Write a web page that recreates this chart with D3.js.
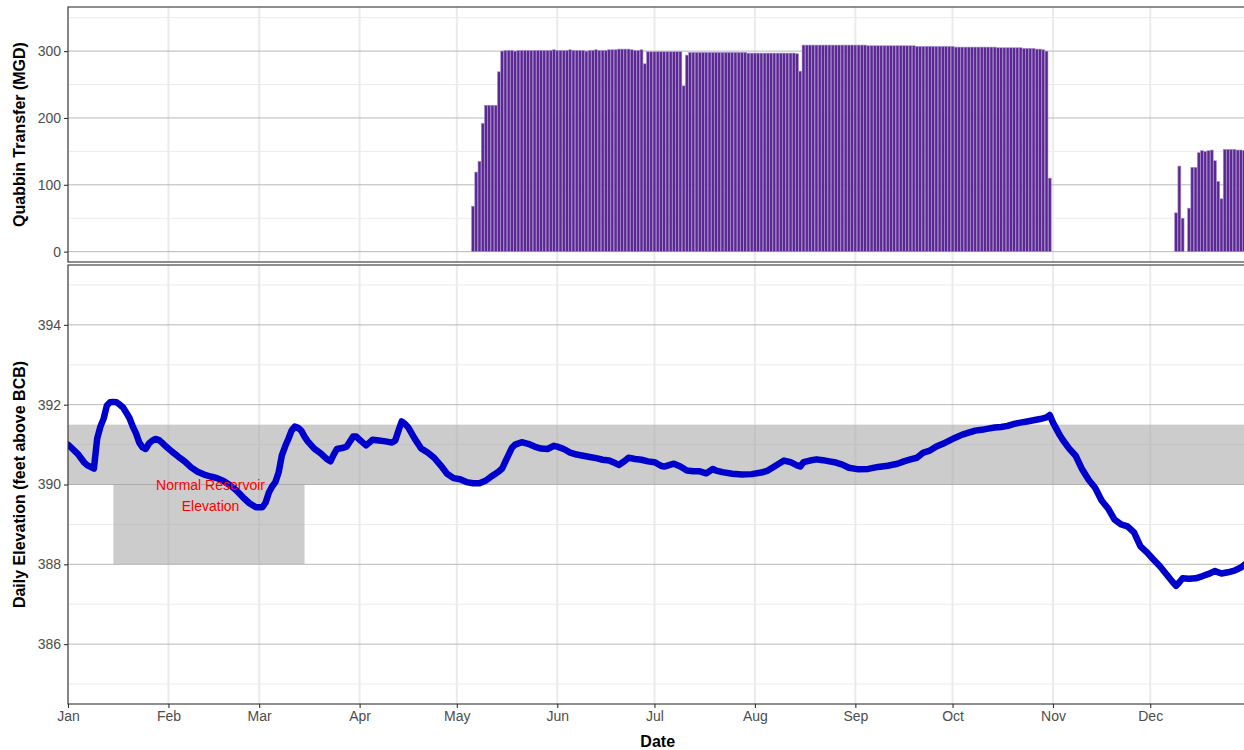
<!DOCTYPE html>
<html>
<head>
<meta charset="utf-8">
<script src="https://cdn.jsdelivr.net/npm/d3@7"></script>
<style>
  body { margin: 0; background: #ffffff; }
  svg { display: block; font-family: "Liberation Sans", Arial, sans-serif; }
</style>
</head>
<body>
<div id="chart"></div>
<script>
var year = 2021;

var monthLabels = ["Jan", "Feb", "Mar", "Apr", "May", "Jun", "Jul", "Aug", "Sep", "Oct", "Nov", "Dec"];
var transferTicks = [0, 100, 200, 300];
var elevationTicks = [386, 388, 390, 392, 394];

// Quabbin transfer (MGD), one value per day from the start date
var transferStartA = "05-06";
var transferValuesA = [68, 119, 135, 192, 219, 219, 219, 219, 269,
    300, 301, 301, 301, 300, 301, 301, 301, 301, 301, 301, 301, 301, 301, 301, 301, 302, 301, 301,
    301, 301, 302, 301, 301, 301, 301, 300, 301, 301, 302, 301, 301, 301, 302, 302, 302,
    303, 303, 303, 303, 302, 301, 301, 302,
    281,
    299, 299, 299, 299, 299, 299, 299, 299, 299, 299, 299,
    248,
    294,
    298, 298, 298, 298, 298, 298, 298, 298, 298, 298, 298, 298, 298, 298, 298, 298, 298, 298, 297, 297,
    297, 297, 297, 297, 297, 297, 297, 297, 297, 297, 297, 297, 297, 296,
    270,
    309, 309, 309, 309, 309, 309, 309, 309, 309, 309, 309, 309, 309, 309, 309, 309, 309, 309, 309, 309,
    308, 308, 308, 308, 308, 308, 308, 308, 308, 308, 308, 308, 308, 308, 308, 307, 307, 307, 307, 307,
    307, 307, 307, 307, 307, 307, 307, 306, 306, 306, 306, 306, 306, 306, 306, 306, 306, 306, 306, 306,
    305, 305, 305, 305, 305, 305, 305, 305, 304, 304, 304, 304, 303, 303, 302, 300,
    110];

var transferStartB = "12-09";
var transferValuesB = [58, 128, 50, 0, 65, 126, 126, 148, 151, 150, 151, 152, 136, 105, 79,
    153, 153, 153, 153, 152, 152, 151, 151];

// daily reservoir elevation (feet above BCB)
var elevDates = ["01-01", "01-04", "01-06", "01-07", "01-09", "01-10", "01-11", "01-12", "01-13", "01-14",
    "01-15", "01-16", "01-17", "01-18", "01-19", "01-20", "01-21", "01-22", "01-23", "01-24",
    "01-25", "01-26", "01-27", "01-28", "01-29", "01-30", "01-31", "02-02", "02-04", "02-06",
    "02-08", "02-10", "02-12", "02-14", "02-16", "02-18", "02-20", "02-22", "02-24", "02-26",
    "02-28", "03-02", "03-03", "03-04", "03-05", "03-06", "03-07", "03-08", "03-09", "03-10",
    "03-11", "03-12", "03-13", "03-14", "03-15", "03-16", "03-18", "03-20", "03-22", "03-23",
    "03-24", "03-25", "03-27", "03-28", "03-30", "03-31", "04-01", "04-02", "04-03", "04-04",
    "04-05", "04-07", "04-09", "04-11", "04-12", "04-13", "04-14", "04-15", "04-16", "04-18",
    "04-20", "04-22", "04-24", "04-26", "04-28", "04-30", "05-02", "05-04", "05-06", "05-08",
    "05-10", "05-12", "05-14", "05-15", "05-16", "05-17", "05-18", "05-19", "05-21", "05-23",
    "05-25", "05-27", "05-29", "05-31", "06-01", "06-03", "06-05", "06-07", "06-09", "06-11",
    "06-13", "06-15", "06-17", "06-19", "06-20", "06-22", "06-23", "06-25", "06-27", "06-29",
    "07-01", "07-03", "07-04", "07-06", "07-07", "07-09", "07-11", "07-13", "07-15", "07-17",
    "07-19", "07-20", "07-22", "07-25", "07-28", "07-31", "08-03", "08-05", "08-07", "08-09",
    "08-10", "08-12", "08-14", "08-15", "08-16", "08-18", "08-20", "08-22", "08-24", "08-26",
    "08-28", "08-30", "09-02", "09-05", "09-08", "09-11", "09-14", "09-16", "09-18", "09-20",
    "09-22", "09-24", "09-26", "09-28", "09-30", "10-02", "10-04", "10-06", "10-08", "10-10",
    "10-12", "10-14", "10-16", "10-18", "10-20", "10-22", "10-24", "10-26", "10-28", "10-30",
    "10-31", "11-01", "11-02", "11-03", "11-04", "11-06", "11-08", "11-10", "11-12", "11-14",
    "11-16", "11-18", "11-20", "11-22", "11-24", "11-26", "11-28", "11-30", "12-02", "12-04",
    "12-06", "12-08", "12-09", "12-10", "12-11", "12-13", "12-15", "12-17", "12-19", "12-21",
    "12-23", "12-25", "12-27", "12-29", "12-31"];
var elevValues = [391.0, 390.77, 390.55, 390.48, 390.4, 391.15, 391.45, 391.65, 391.98, 392.06,
    392.07, 392.06, 392.0, 391.93, 391.8, 391.66, 391.45, 391.28, 391.05, 390.93,
    390.89, 391.03, 391.1, 391.14, 391.12, 391.05, 390.97, 390.83, 390.7, 390.58,
    390.43, 390.32, 390.25, 390.2, 390.16, 390.09, 389.98, 389.85, 389.68, 389.53,
    389.43, 389.43, 389.55, 389.8, 389.95, 390.06, 390.3, 390.73, 390.95, 391.14,
    391.35, 391.45, 391.42, 391.35, 391.2, 391.08, 390.9, 390.78, 390.63, 390.58,
    390.75, 390.89, 390.92, 390.95, 391.2, 391.2, 391.12, 391.05, 390.98, 391.05,
    391.12, 391.1, 391.08, 391.05, 391.1, 391.35, 391.58, 391.52, 391.43, 391.15,
    390.9, 390.8, 390.67, 390.48, 390.27, 390.16, 390.13, 390.06, 390.03, 390.03,
    390.1, 390.22, 390.33, 390.4, 390.58, 390.75, 390.92, 391.0, 391.06, 391.02,
    390.95, 390.9, 390.89, 390.97, 390.95, 390.89, 390.8, 390.75, 390.72, 390.69,
    390.66, 390.62, 390.6, 390.53, 390.49, 390.6, 390.67, 390.64, 390.62, 390.58,
    390.56, 390.47, 390.45, 390.5, 390.52, 390.45, 390.35, 390.33, 390.33, 390.28,
    390.39, 390.35, 390.31, 390.27, 390.25, 390.26, 390.3, 390.35, 390.45, 390.55,
    390.6, 390.56, 390.48, 390.45, 390.56, 390.6, 390.63, 390.61, 390.58, 390.55,
    390.5, 390.42, 390.38, 390.39, 390.44, 390.47, 390.52, 390.58, 390.63, 390.67,
    390.8, 390.85, 390.95, 391.02, 391.1, 391.18, 391.25, 391.3, 391.35, 391.37,
    391.4, 391.43, 391.44, 391.47, 391.52, 391.55, 391.58, 391.61, 391.64, 391.68,
    391.74, 391.55, 391.4, 391.25, 391.12, 390.9, 390.72, 390.38, 390.12, 389.92,
    389.6, 389.4, 389.12, 389.0, 388.95, 388.8, 388.45, 388.3, 388.12, 387.95,
    387.75, 387.55, 387.46, 387.55, 387.65, 387.64, 387.65, 387.7, 387.76, 387.83,
    387.77, 387.8, 387.84, 387.92, 388.05];

// normal elevation bands: [from, to, low, high]
var normalBands = [["01-01", "12-31", 390, 391.5], ["01-15", "03-15", 388, 390]];
var noteLines = ["Normal Reservoir", "Elevation"];
var noteDate = "02-14";
var noteValue = 390;

function init() {

    var w = 1244;
    var h = 750;

    var left = 68;
    var topPanel = [7, 262];
    var botPanel = [265, 704];

    var parse = d3.timeParse("%Y-%m-%d");
    var day = function(s) { return parse(year + "-" + s); };

    var xScale = d3.scaleTime()
                   .domain([day("01-01"), day("12-31")])
                   .range([left, 1247.4]);
    var right = xScale.range()[1];
    var dayW = xScale(day("01-02")) - xScale(day("01-01"));

    var yTop = d3.scaleLinear()
                 .domain([-15.5, 366])
                 .range([topPanel[1], topPanel[0]]);

    var yBot = d3.scaleLinear()
                 .domain([384.5, 395.5])
                 .range([botPanel[1], botPanel[0]]);

    var svg = d3.select("#chart")
                .append("svg")
                .attr("width", w)
                .attr("height", h);

    svg.append("rect").attr("width", w).attr("height", h).attr("fill", "#ffffff");

    var monthStarts = d3.range(12).map(function(i) { return new Date(year, i, 1); });

    // panel grids
    function grid(yScale, panel, majors, minors) {
        var g = svg.append("g");
        g.selectAll("line.minor")
         .data(minors)
         .enter()
         .append("line")
         .attr("x1", left).attr("x2", right)
         .attr("y1", function(d) { return yScale(d); })
         .attr("y2", function(d) { return yScale(d); })
         .attr("stroke", "#ebebeb").attr("stroke-width", 1);
        g.selectAll("line.vert")
         .data(monthStarts)
         .enter()
         .append("line")
         .attr("x1", function(d) { return xScale(d); })
         .attr("x2", function(d) { return xScale(d); })
         .attr("y1", panel[0]).attr("y2", panel[1])
         .attr("stroke", "#ebebeb").attr("stroke-width", 2);
        g.selectAll("line.major")
         .data(majors)
         .enter()
         .append("line")
         .attr("x1", left).attr("x2", right)
         .attr("y1", function(d) { return yScale(d); })
         .attr("y2", function(d) { return yScale(d); })
         .attr("stroke", "#b8b8b8").attr("stroke-width", 1);
    }

    grid(yTop, topPanel, transferTicks, [50, 150, 250, 350]);
    grid(yBot, botPanel, elevationTicks, [385, 387, 389, 391, 393, 395]);

    // transfer bars
    var bars = [];
    transferValuesA.forEach(function(v, i) {
        bars.push({ date: d3.timeDay.offset(day(transferStartA), i), value: v });
    });
    transferValuesB.forEach(function(v, i) {
        bars.push({ date: d3.timeDay.offset(day(transferStartB), i), value: v });
    });

    svg.append("clipPath").attr("id", "clipTop")
       .append("rect").attr("x", left).attr("y", topPanel[0])
       .attr("width", right - left).attr("height", topPanel[1] - topPanel[0]);

    svg.append("g")
       .attr("clip-path", "url(#clipTop)")
       .selectAll("rect")
       .data(bars.filter(function(d) { return d.value > 0; }))
       .enter()
       .append("rect")
       .attr("x", function(d) { return xScale(d.date) - dayW * 0.45; })
       .attr("width", dayW * 0.9)
       .attr("y", function(d) { return yTop(d.value); })
       .attr("height", function(d) { return yTop(0) - yTop(d.value); })
       .attr("fill", "#5b2790")
       .attr("stroke", "#a68dcf")
       .attr("stroke-width", 0.6);

    // bottom panel: normal elevation shading, note, line
    svg.append("clipPath").attr("id", "clipBot")
       .append("rect").attr("x", left).attr("y", botPanel[0])
       .attr("width", right - left).attr("height", botPanel[1] - botPanel[0]);

    var bot = svg.append("g").attr("clip-path", "url(#clipBot)");

    bot.selectAll("rect.band")
       .data(normalBands)
       .enter()
       .append("rect")
       .attr("x", function(d) { return xScale(day(d[0])); })
       .attr("width", function(d) { return xScale(day(d[1])) - xScale(day(d[0])); })
       .attr("y", function(d) { return yBot(d[3]); })
       .attr("height", function(d) { return yBot(d[2]) - yBot(d[3]); })
       .attr("fill", "#a3a3a3")
       .attr("fill-opacity", 0.55);

    var elevation = elevDates.map(function(s, i) {
        return { date: day(s), value: elevValues[i] };
    });

    var line = d3.line()
                 .x(function(d) { return xScale(d.date); })
                 .y(function(d) { return yBot(d.value); });

    bot.append("path")
       .datum(elevation)
       .attr("d", line)
       .attr("fill", "none")
       .attr("stroke", "#0000cd")
       .attr("stroke-width", 6.5)
       .attr("stroke-linejoin", "round")
       .attr("stroke-linecap", "round");

    bot.append("text")
       .attr("x", xScale(day(noteDate)))
       .attr("y", yBot(noteValue))
       .attr("text-anchor", "middle")
       .attr("font-size", 14)
       .attr("fill", "#ff0000")
       .selectAll("tspan")
       .data(noteLines)
       .enter()
       .append("tspan")
       .attr("x", xScale(day(noteDate)))
       .attr("dy", function(d, i) { return i === 0 ? 5 : 21; })
       .text(function(d) { return d; });

    // panel borders
    [topPanel, botPanel].forEach(function(p) {
        svg.append("rect")
           .attr("x", left).attr("y", p[0])
           .attr("width", right - left).attr("height", p[1] - p[0])
           .attr("fill", "none")
           .attr("stroke", "#333333")
           .attr("stroke-width", 1.1);
    });

    // axes
    var axisTop = d3.axisLeft(yTop).tickValues(transferTicks).tickSize(4).tickPadding(3).tickSizeOuter(0);
    var axisBot = d3.axisLeft(yBot).tickValues(elevationTicks).tickSize(4).tickPadding(3).tickSizeOuter(0);
    var axisX = d3.axisBottom(xScale)
                  .tickValues(monthStarts)
                  .tickFormat(function(d) { return monthLabels[d.getMonth()]; })
                  .tickSize(4).tickPadding(3).tickSizeOuter(0);

    function styleAxis(g) {
        g.select(".domain").remove();
        g.selectAll(".tick line").attr("stroke", "#333333").attr("stroke-width", 1.1);
        g.selectAll(".tick text")
         .attr("fill", "#4d4d4d")
         .attr("font-size", 14)
         .attr("font-family", "Liberation Sans, Arial, sans-serif");
    }

    svg.append("g").attr("transform", "translate(" + left + ",0)").call(axisTop).call(styleAxis);
    svg.append("g").attr("transform", "translate(" + left + ",0)").call(axisBot).call(styleAxis);
    svg.append("g").attr("transform", "translate(0," + botPanel[1] + ")").call(axisX).call(styleAxis);

    // axis titles
    svg.append("text")
       .attr("transform", "translate(25," + ((topPanel[0] + topPanel[1]) / 2) + ") rotate(-90)")
       .attr("text-anchor", "middle")
       .attr("font-size", 16)
       .attr("font-weight", "bold")
       .attr("fill", "#000000")
       .text("Quabbin Transfer (MGD)");

    svg.append("text")
       .attr("transform", "translate(25," + ((botPanel[0] + botPanel[1]) / 2) + ") rotate(-90)")
       .attr("text-anchor", "middle")
       .attr("font-size", 16)
       .attr("font-weight", "bold")
       .attr("fill", "#000000")
       .text("Daily Elevation (feet above BCB)");

    svg.append("text")
       .attr("x", (left + right) / 2)
       .attr("y", 747)
       .attr("text-anchor", "middle")
       .attr("font-size", 16)
       .attr("font-weight", "bold")
       .attr("fill", "#000000")
       .text("Date");
}

window.onload = init;
</script>
</body>
</html>
